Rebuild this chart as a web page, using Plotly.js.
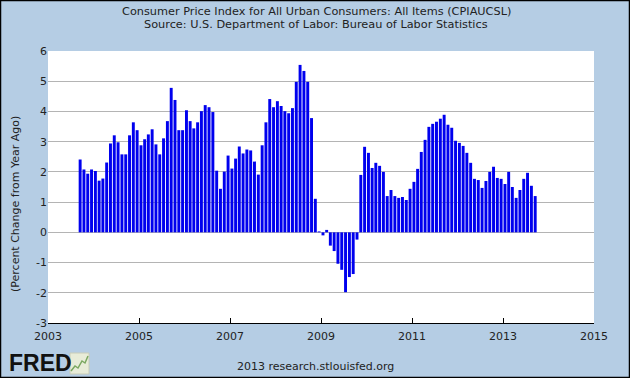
<!DOCTYPE html>
<html>
<head>
<meta charset="utf-8">
<script src="https://cdn.plot.ly/plotly-3.0.1.min.js"></script>
<style>
  html, body { margin: 0; padding: 0; background: #b5cde4; }
  #chart { width: 630px; height: 378px; }
</style>
</head>
<body>
<div id="chart"></div>
<script>
// CPIAUCSL, percent change from year ago, monthly, starting 2003-09
const startYear = 2003;
const startMonth = 9;
const v2003 = [2.41, 2.08, 1.94, 2.08];
const v2004 = [2.03, 1.71, 1.78, 2.31, 2.94, 3.21, 2.98, 2.58, 2.58, 3.21, 3.64, 3.38];
const v2005 = [2.88, 3.08, 3.24, 3.41, 2.91, 2.58, 3.11, 3.68, 4.78, 4.38, 3.38, 3.38];
const v2006 = [4.04, 3.68, 3.44, 3.64, 4.01, 4.21, 4.14, 3.98, 2.04, 1.44, 2.01, 2.54];
const v2007 = [2.11, 2.44, 2.84, 2.61, 2.74, 2.71, 2.34, 1.91, 2.88, 3.64, 4.41, 4.14];
const v2008 = [4.34, 4.18, 4.01, 3.94, 4.11, 4.98, 5.54, 5.34, 4.98, 3.78, 1.11, 0.03];
const v2009 = [-0.10, 0.08, -0.44, -0.62, -1.04, -1.24, -1.98, -1.48, -1.38, -0.24, 1.90, 2.83];
const v2010 = [2.63, 2.13, 2.30, 2.20, 2.00, 1.20, 1.40, 1.20, 1.14, 1.17, 1.07, 1.44];
const v2011 = [1.67, 2.10, 2.66, 3.06, 3.49, 3.59, 3.66, 3.76, 3.89, 3.56, 3.46, 3.03];
const v2012 = [2.96, 2.86, 2.63, 2.30, 1.77, 1.73, 1.47, 1.70, 2.00, 2.17, 1.80, 1.77];
const v2013 = [1.60, 2.00, 1.50, 1.14, 1.40, 1.77, 1.97, 1.54, 1.20];

const values = [].concat(v2003, v2004, v2005, v2006, v2007, v2008, v2009, v2010, v2011, v2012, v2013);
const dates = [];
for (let i = 0; i < values.length; i++) {
  const m0 = startMonth - 1 + i;
  const y = startYear + Math.floor(m0 / 12);
  const m = (m0 % 12) + 1;
  dates.push(y + '-' + String(m).padStart(2, '0') + '-01');
}

const titleLine1 = 'Consumer Price Index for All Urban Consumers: All Items (CPIAUCSL)';
const titleLine2 = 'Source: U.S. Department of Labor: Bureau of Labor Statistics';
const yTitle = '(Percent Change from Year Ago)';
const footer = '2013 research.stlouisfed.org';
const yTicks = [-3, -2, -1, 0, 1, 2, 3, 4, 5, 6];

const W = 630, H = 378, L = 48, R = 36, T = 51, B = 55;
const pw = W - L - R, ph = H - T - B;
const px = x => (x - L) / pw;           // pixel -> paper x
const py = y => 1 - (y - T) / ph;       // pixel -> paper y

const FONT = 'DejaVu Sans, Verdana, sans-serif';

const trace = {
  type: 'bar',
  x: dates,
  y: values,
  xperiod: 'M1',
  xperiodalignment: 'middle',
  marker: { color: '#0000ee', line: { width: 0 } },
  hoverinfo: 'x+y'
};

const layout = {
  width: W, height: H,
  margin: { l: L, r: R, t: T, b: B },
  paper_bgcolor: '#b5cde4',
  plot_bgcolor: '#ffffff',
  bargap: 0.2,
  showlegend: false,
  font: { family: FONT, size: 11, color: '#222' },
  xaxis: {
    type: 'date',
    range: ['2003-01-01', '2015-01-01'],
    tick0: '2003-01-01',
    dtick: 'M24',
    tickformat: '%Y',
    ticks: 'inside',
    ticklen: 5,
    tickcolor: '#000',
    showline: true,
    linecolor: '#000',
    linewidth: 1,
    showgrid: false,
    zeroline: false,
    ticklabelstandoff: 3,
    tickfont: { family: FONT, size: 11, color: '#222' }
  },
  yaxis: {
    range: [-3, 6],
    tickvals: yTicks,
    ticktext: yTicks.map(String),
    showgrid: true,
    gridcolor: '#b4b4b4',
    gridwidth: 1,
    zeroline: false,
    showline: false,
    ticks: '',
    tickfont: { family: FONT, size: 11, color: '#222' }
  },
  annotations: [
    { text: titleLine1, xref: 'paper', yref: 'paper', x: px(316), y: py(11), showarrow: false,
      font: { family: FONT, size: 11.3, color: '#222' }, xanchor: 'center', yanchor: 'middle' },
    { text: titleLine2, xref: 'paper', yref: 'paper', x: px(316), y: py(25), showarrow: false,
      font: { family: FONT, size: 11.3, color: '#222' }, xanchor: 'center', yanchor: 'middle' },
    { text: yTitle, xref: 'paper', yref: 'paper', x: px(15), y: py(204), showarrow: false, textangle: -90,
      font: { family: FONT, size: 11, color: '#222' }, xanchor: 'center', yanchor: 'middle' },
    { text: footer, xref: 'paper', yref: 'paper', x: px(315), y: py(366), showarrow: false,
      font: { family: FONT, size: 11, color: '#222' }, xanchor: 'center', yanchor: 'middle' },
    { text: '<b>FRED</b>', xref: 'paper', yref: 'paper', x: px(7), y: py(363), showarrow: false,
      font: { family: 'Liberation Sans, Arial, sans-serif', size: 23, color: '#111' }, xanchor: 'left', yanchor: 'middle' }
  ],
  shapes: [
    { type: 'rect', xref: 'paper', yref: 'paper', x0: px(70), x1: px(89), y0: py(374), y1: py(353),
      fillcolor: '#e8ecd8', line: { color: '#c8ccb8', width: 1 }, layer: 'above' },
    { type: 'path', xref: 'paper', yref: 'paper', layer: 'above',
      path: 'M' + px(71) + ',' + py(371) + ' L' + px(75) + ',' + py(366) + ' L' + px(78) + ',' + py(368) +
            ' L' + px(82) + ',' + py(361) + ' L' + px(85) + ',' + py(363) + ' L' + px(88) + ',' + py(356),
      line: { color: '#7aa860', width: 1.5 } },
    { type: 'rect', xref: 'paper', yref: 'paper', x0: px(0.5), x1: px(629.5), y0: py(377.5), y1: py(0.5),
      line: { color: '#000', width: 1.5 }, fillcolor: 'rgba(0,0,0,0)', layer: 'above' }
  ]
};

Plotly.newPlot('chart', [trace], layout, { displayModeBar: false, staticPlot: true });
</script>
</body>
</html>
